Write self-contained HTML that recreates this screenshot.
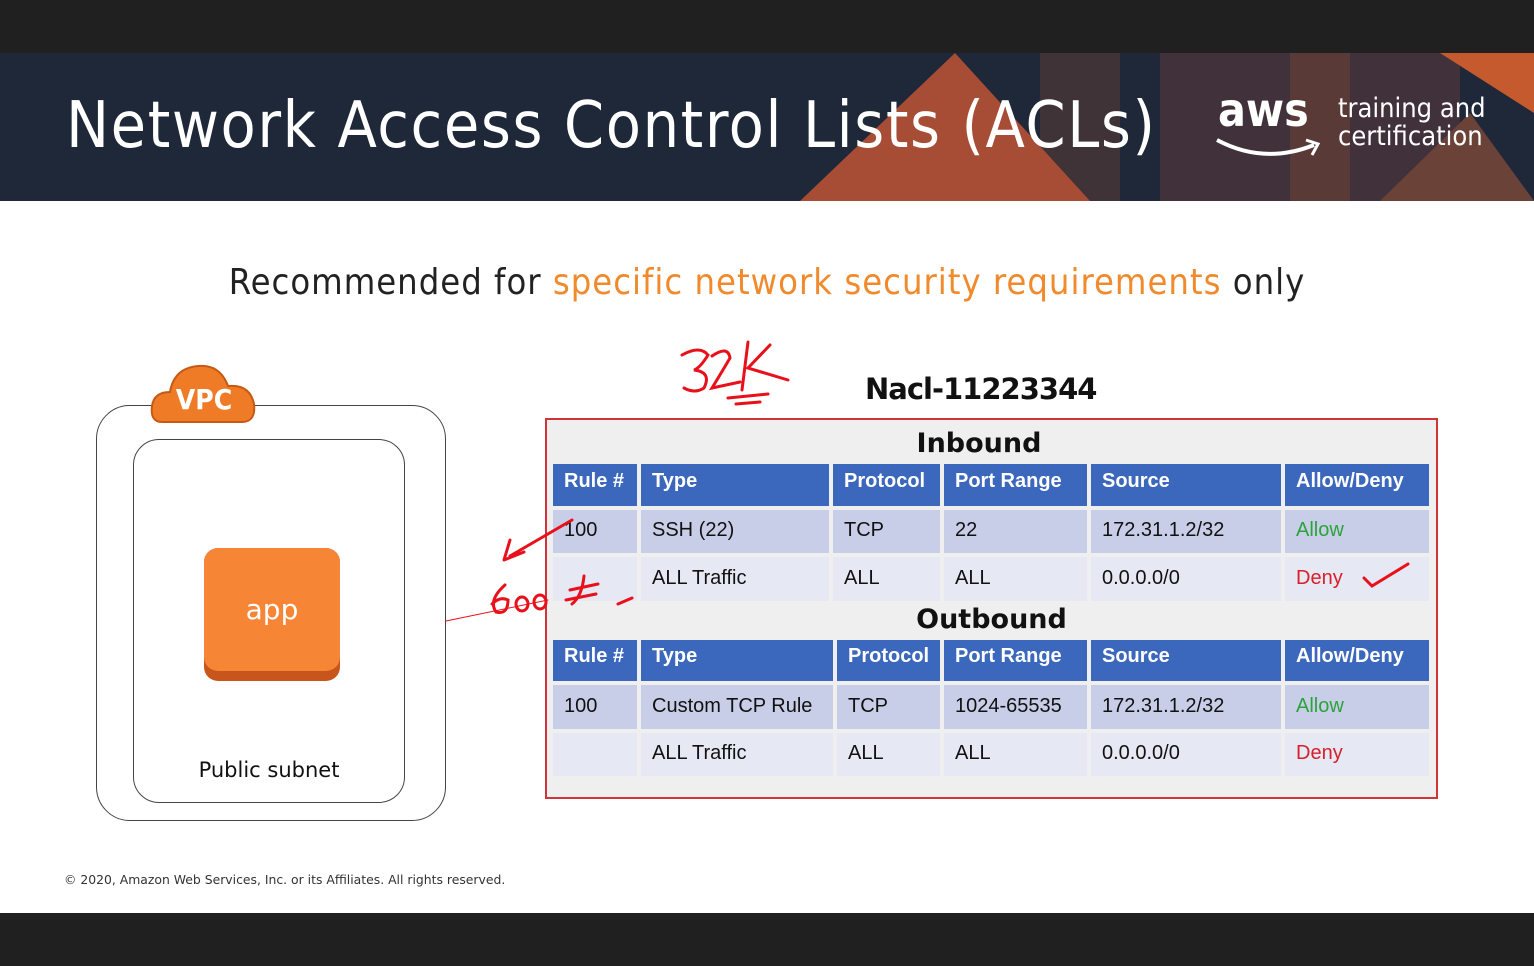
<!DOCTYPE html>
<html><head><meta charset="utf-8"><style>
*{margin:0;padding:0;box-sizing:border-box}
body{width:1534px;height:966px;position:relative;background:#fff;font-family:"DejaVu Sans","Liberation Sans",sans-serif;overflow:hidden}
.a{position:absolute}
.c{position:absolute;font-size:20px;color:#111;padding-left:11px;display:flex;align-items:center;font-family:"Liberation Sans",sans-serif;white-space:nowrap;padding-bottom:2px}
.h{background:#3b67bd;color:#fff;font-weight:bold;padding-bottom:8px}
.r1{background:#c9cee8}
.r2{background:#e6e8f3}
</style></head><body>
<div class="a" style="left:0;top:0;width:1534px;height:53px;background:#202020"></div>
<div class="a" style="left:0;top:913px;width:1534px;height:53px;background:#202020"></div>
<div class="a" style="left:0;top:53px;width:1534px;height:148px;background:#1e2838;overflow:hidden">
<svg width="1534" height="148" class="a" style="left:0;top:0">
<rect x="1040" y="0" width="80" height="148" fill="#3f3338"/>
<rect x="1160" y="0" width="300" height="148" fill="#40313a"/>
<rect x="1290" y="0" width="60" height="148" fill="#5a3a36"/>
<polygon points="800,148 955,0 1090,148" fill="#a84d35"/>
<polygon points="1440,0 1534,0 1534,60" fill="#c45a2e"/>
<polygon points="1380,148 1470,60 1534,148" fill="#6a4238"/>
</svg>
<div class="a" style="left:66px;top:36px;font-size:64px;color:#fff;letter-spacing:1.6px;white-space:nowrap;font-family:'DejaVu Sans Condensed','DejaVu Sans',sans-serif">Network Access Control Lists (ACLs)</div>
<div class="a" style="left:1218px;top:30px;font-size:46px;color:#fff;font-weight:bold;font-family:'DejaVu Sans Condensed',sans-serif">aws</div>
<svg class="a" style="left:1214px;top:82px" width="110" height="30"><path d="M3 5 Q50 30 100 10" stroke="#fff" stroke-width="4" fill="none"/><path d="M92 5 L104 9 L98 20" stroke="#fff" stroke-width="3" fill="none"/></svg>
<div class="a" style="left:1338px;top:42px;font-size:27px;color:#fff;line-height:28px;font-family:'DejaVu Sans Condensed',sans-serif">training and<br>certification</div>
</div>
<div class="a" style="left:0;top:262px;width:1534px;text-align:center;font-size:36px;letter-spacing:1px;color:#222;font-family:'DejaVu Sans Condensed','DejaVu Sans',sans-serif">Recommended for <span style="color:#f08a2c">specific network security requirements</span> only</div>
<div class="a" style="left:96px;top:405px;width:350px;height:416px;border:1.5px solid #444;border-radius:34px"></div>
<div class="a" style="left:133px;top:439px;width:272px;height:364px;border:1.5px solid #444;border-radius:26px"></div>
<svg class="a" style="left:150px;top:360px" width="110" height="66"><path d="M12 62 Q0 62 2 46 Q4 32 20 32 Q24 8 48 6 Q70 4 78 26 Q100 24 104 44 Q106 62 92 62 Z" fill="#f07b27" stroke="#c55a15" stroke-width="2"/></svg>
<div class="a" style="left:150px;top:383px;width:108px;text-align:center;color:#fff;font-weight:bold;font-size:28px;font-family:'DejaVu Sans Condensed',sans-serif">VPC</div>
<div class="a" style="left:204px;top:548px;width:136px;height:133px;background:#c8561c;border-radius:14px"></div>
<div class="a" style="left:204px;top:548px;width:136px;height:123px;background:#f68536;border-radius:14px;color:#fff;font-size:28px;display:flex;align-items:center;justify-content:center">app</div>
<div class="a" style="left:133px;top:758px;width:272px;text-align:center;font-size:21px;color:#111">Public subnet</div>
<div class="a" style="left:64px;top:872px;font-size:12.4px;color:#333;white-space:nowrap">© 2020, Amazon Web Services, Inc. or its Affiliates. All rights reserved.</div>
<div class="a" style="left:865px;top:372px;font-size:29px;font-weight:bold;color:#111;letter-spacing:-1px">Nacl-11223344</div>
<div class="a" style="left:545px;top:418px;width:893px;height:381px;background:#efefef;border:2px solid #d0343a"></div>
<div class="a" style="left:545px;top:428px;width:868px;text-align:center;font-size:27px;font-weight:bold;color:#111">Inbound</div>
<div class="a" style="left:545px;top:604px;width:893px;text-align:center;font-size:27px;font-weight:bold;color:#111">Outbound</div>

<div class="c h" style="left:553px;top:464px;width:84px;height:42px">Rule #</div>
<div class="c h" style="left:641px;top:464px;width:188px;height:42px">Type</div>
<div class="c h" style="left:833px;top:464px;width:107px;height:42px">Protocol</div>
<div class="c h" style="left:944px;top:464px;width:143px;height:42px">Port Range</div>
<div class="c h" style="left:1091px;top:464px;width:190px;height:42px">Source</div>
<div class="c h" style="left:1285px;top:464px;width:144px;height:42px">Allow/Deny</div>

<div class="c r1" style="left:553px;top:510px;width:84px;height:43px">100</div>
<div class="c r1" style="left:641px;top:510px;width:188px;height:43px">SSH (22)</div>
<div class="c r1" style="left:833px;top:510px;width:107px;height:43px">TCP</div>
<div class="c r1" style="left:944px;top:510px;width:143px;height:43px">22</div>
<div class="c r1" style="left:1091px;top:510px;width:190px;height:43px">172.31.1.2/32</div>
<div class="c r1" style="left:1285px;top:510px;width:144px;height:43px;color:#2ba33a">Allow</div>

<div class="c r2" style="left:553px;top:557px;width:84px;height:44px"></div>
<div class="c r2" style="left:641px;top:557px;width:188px;height:44px">ALL Traffic</div>
<div class="c r2" style="left:833px;top:557px;width:107px;height:44px">ALL</div>
<div class="c r2" style="left:944px;top:557px;width:143px;height:44px">ALL</div>
<div class="c r2" style="left:1091px;top:557px;width:190px;height:44px">0.0.0.0/0</div>
<div class="c r2" style="left:1285px;top:557px;width:144px;height:44px;color:#d8202a">Deny</div>

<div class="c h" style="left:553px;top:640px;width:84px;height:41px">Rule #</div>
<div class="c h" style="left:641px;top:640px;width:192px;height:41px">Type</div>
<div class="c h" style="left:837px;top:640px;width:103px;height:41px">Protocol</div>
<div class="c h" style="left:944px;top:640px;width:143px;height:41px">Port Range</div>
<div class="c h" style="left:1091px;top:640px;width:190px;height:41px">Source</div>
<div class="c h" style="left:1285px;top:640px;width:144px;height:41px">Allow/Deny</div>

<div class="c r1" style="left:553px;top:685px;width:84px;height:44px">100</div>
<div class="c r1" style="left:641px;top:685px;width:192px;height:44px">Custom TCP Rule</div>
<div class="c r1" style="left:837px;top:685px;width:103px;height:44px">TCP</div>
<div class="c r1" style="left:944px;top:685px;width:143px;height:44px">1024-65535</div>
<div class="c r1" style="left:1091px;top:685px;width:190px;height:44px">172.31.1.2/32</div>
<div class="c r1" style="left:1285px;top:685px;width:144px;height:44px;color:#2ba33a">Allow</div>

<div class="c r2" style="left:553px;top:733px;width:84px;height:43px"></div>
<div class="c r2" style="left:641px;top:733px;width:192px;height:43px">ALL Traffic</div>
<div class="c r2" style="left:837px;top:733px;width:103px;height:43px">ALL</div>
<div class="c r2" style="left:944px;top:733px;width:143px;height:43px">ALL</div>
<div class="c r2" style="left:1091px;top:733px;width:190px;height:43px">0.0.0.0/0</div>
<div class="c r2" style="left:1285px;top:733px;width:144px;height:43px;color:#d8202a">Deny</div>

<svg class="a" style="left:0;top:0" width="1534" height="966" fill="none" stroke="#e8101a" stroke-width="3" stroke-linecap="round">
<line x1="446" y1="621" x2="548" y2="600" stroke-width="1"/>
<path d="M682 355 Q700 345 708 355 Q700 368 694 370 Q712 372 704 388 Q695 394 684 388"/>
<path d="M712 356 Q728 345 730 358 Q720 375 712 388 L740 382"/>
<path d="M748 342 L742 390 M770 345 L748 368 L788 380"/>
<path d="M728 398 L768 394 M736 404 L760 402"/>
<path d="M504 560 L510 540 M504 560 L524 552 M510 556 L572 520"/>
<path d="M505 585 Q488 600 496 612 Q508 615 508 600 Q500 596 492 604"/>
<ellipse cx="522" cy="604" rx="6" ry="7"/><ellipse cx="540" cy="602" rx="6" ry="7"/>
<path d="M570 590 L598 584 M566 600 L596 594 M584 576 Q582 596 572 604"/>
<path d="M618 604 L632 598"/>
<path d="M1364 578 L1372 586 L1408 564"/>
</svg>
</body></html>
